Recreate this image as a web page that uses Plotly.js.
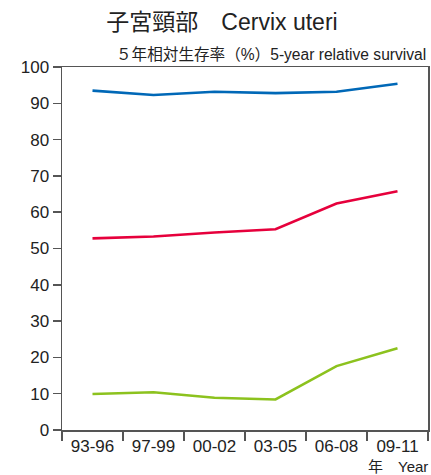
<!DOCTYPE html>
<html>
<head>
<meta charset="utf-8">
<script src="https://cdn.plot.ly/plotly-3.0.1.min.js"></script>
<style>html,body{margin:0;padding:0;background:#fff;}#chart{width:431px;height:475px;}</style>
</head>
<body>
<div id="chart"></div>
<script>
const periods = ["93-96", "97-99", "00-02", "03-05", "06-08", "09-11"];
const stageLocal = [93.5, 92.3, 93.2, 92.8, 93.2, 95.4];
const stageRegional = [52.8, 53.3, 54.4, 55.3, 62.4, 65.8];
const stageDistant = [9.9, 10.4, 8.9, 8.4, 17.6, 22.5];
const yTicks = [0, 10, 20, 30, 40, 50, 60, 70, 80, 90, 100];

const FONT = "Liberation Sans, Arial, 'Noto Sans CJK JP', sans-serif";
const mk = (y, c) => ({x: periods, y: y, type: 'scatter', mode: 'lines',
  line: {color: c, width: 2.6}, hoverinfo: 'skip', showlegend: false});

const data = [
  mk(stageLocal, '#0068b7'),
  mk(stageRegional, '#e6003c'),
  mk(stageDistant, '#8cc21e')
];

const layout = {
  width: 431, height: 475,
  margin: {l: 62, r: 3, t: 66.5, b: 45},
  paper_bgcolor: '#fff', plot_bgcolor: '#fff',
  font: {family: FONT, color: '#222'},
  title: {text: '子宮頸部　Cervix uteri', x: 222/431, xanchor: 'center',
    xref: 'container', y: 1 - 22/475, yanchor: 'middle', yref: 'container',
    font: {size: 23, color: '#222', family: FONT}},
  xaxis: {type: 'category', range: [-0.5, 5.5], tickson: 'boundaries',
    ticks: 'outside', ticklen: 9, tickwidth: 1.5, tickcolor: '#555',
    showline: true, linecolor: '#555', linewidth: 1.5, mirror: true,
    showgrid: false, zeroline: false, tickfont: {size: 17, color: '#222'}, fixedrange: true},
  yaxis: {range: [0, 100], tickvals: yTicks, ticktext: yTicks.map(String),
    ticks: 'outside', ticklen: 8, tickwidth: 1.5, tickcolor: '#555',
    showline: true, linecolor: '#555', linewidth: 1.5, mirror: true,
    showgrid: false, zeroline: false, tickfont: {size: 17, color: '#222'}, fixedrange: true},
  annotations: [
    {text: '５年相対生存率（%）5-year relative survival', xref: 'paper', yref: 'paper',
      x: (428-62)/366, y: 1 + 13/363.5, xanchor: 'right', yanchor: 'middle',
      showarrow: false, font: {size: 15.6, color: '#222'}},
    {text: '年　Year', xref: 'paper', yref: 'paper',
      x: (430-62)/366, y: -37/363.5, xanchor: 'right', yanchor: 'middle',
      showarrow: false, font: {size: 15, color: '#222'}}
  ]
};

Plotly.newPlot('chart', data, layout, {displayModeBar: false, staticPlot: true});
</script>
</body>
</html>
